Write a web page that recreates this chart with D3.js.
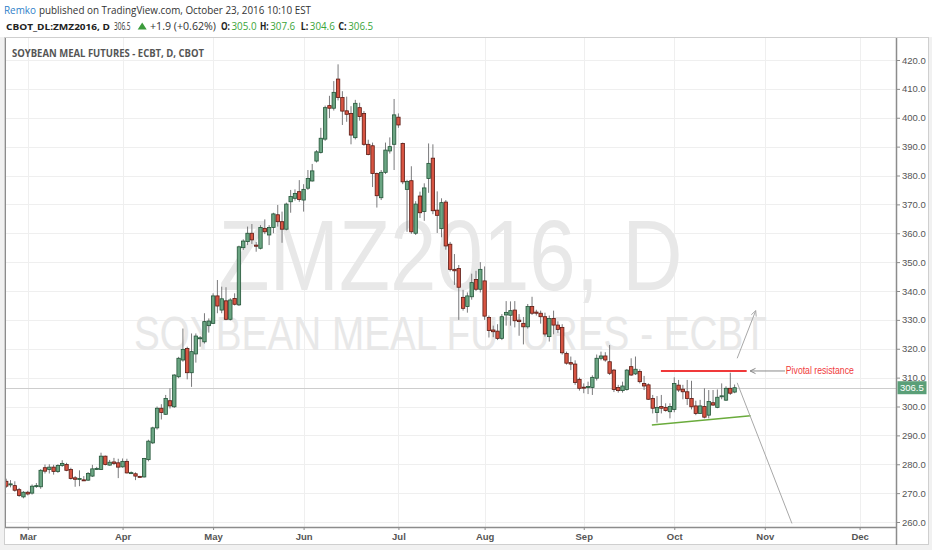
<!DOCTYPE html>
<html>
<head>
<meta charset="utf-8">
<title>ZMZ2016, D</title>
<script src="https://d3js.org/d3.v7.min.js"></script>
<style>
  body { margin: 0; background: #fff; }
  svg { display: block; font-family: "Liberation Sans", Arial, sans-serif; }
</style>
</head>
<body>
<svg id="chart" width="932" height="550"></svg>
<script>
// daily OHLC, 23 Feb 2016 .. 21 Oct 2016
const opens = [274.1,273.0,272.6,271.2,268.7,270.3,270.0,272.4,272.2,278.8,278.2,279.0,277.5,279.6,279.9,278.2,275.3,275.0,274.6,274.5,
  275.9,278.4,278.2,282.8,279.7,280.8,280.5,279.1,281.0,277.0,276.7,275.8,275.6,281.6,287.4,292.6,299.4,297.3,302.0,299.9,
  310.3,316.1,320.1,311.7,318.2,323.7,322.4,328.0,328.8,338.3,333.4,336.6,330.2,337.4,335.2,355.0,357.1,360.0,355.9,354.8,
  361.7,359.4,362.0,366.4,364.0,361.4,370.9,372.1,374.4,371.5,375.6,378.1,385.0,388.0,392.6,404.2,403.3,413.4,407.0,402.4,
  401.5,393.1,403.5,401.5,390.8,390.3,380.7,372.3,381.1,388.5,390.8,400.2,391.1,375.2,378.2,360.0,372.9,367.5,379.0,386.0,
  368.0,361.6,370.8,356.2,347.5,347.8,337.8,334.6,338.0,344.0,340.6,343.5,330.8,326.5,326.1,323.6,331.7,331.6,333.4,329.9,
  328.8,327.6,334.6,332.7,332.3,331.1,324.2,330.5,328.2,327.4,318.4,315.2,314.7,309.4,306.7,306.8,306.6,309.8,316.7,317.5,
  315.5,312.6,306.6,305.5,305.9,313.8,311.3,312.1,308.0,307.5,302.8,297.9,300.0,299.7,298.2,299.0,307.4,306.0,305.1,302.8,
  300.2,297.6,300.0,297.0,301.3,299.7,303.4,302.2,306.3,305.0];
const highs = [275.0,274.5,274.1,271.8,270.7,270.8,273.0,273.5,278.3,279.9,280.0,279.8,280.0,281.4,280.5,278.8,275.9,277.9,275.9,277.3,
  279.8,279.1,284.0,283.0,281.5,282.2,281.9,282.0,281.9,277.5,277.2,276.0,282.2,288.5,293.0,300.0,300.8,304.0,306.3,311.2,
  317.2,327.0,320.7,325.3,325.3,324.4,332.3,330.5,339.2,343.8,341.5,341.3,337.5,339.2,355.7,357.9,362.3,363.2,357.0,362.8,
  364.8,362.8,367.1,369.8,367.5,370.6,375.0,375.2,378.4,377.0,381.9,384.0,388.8,396.5,404.2,407.6,412.7,418.5,409.2,407.3,
  404.0,406.2,405.2,402.3,392.4,391.4,381.0,381.9,391.4,393.2,406.5,401.5,391.4,378.5,383.2,371.1,374.4,377.3,391.1,390.8,
  374.5,372.1,371.5,357.0,352.8,349.0,340.4,339.5,346.0,347.0,350.0,348.5,331.5,328.0,328.5,332.0,336.5,336.4,336.5,332.0,
  331.0,335.5,338.0,333.5,333.2,332.5,331.5,333.2,329.5,328.5,319.0,317.3,316.0,310.0,308.0,308.6,310.8,318.0,319.0,318.8,
  321.3,313.0,307.5,308.6,313.0,316.7,317.3,312.9,310.6,308.0,304.0,303.6,304.0,301.1,301.1,310.1,309.2,307.5,309.2,308.9,
  302.0,302.3,306.3,305.7,305.7,305.9,308.0,307.0,311.7,307.6];
const lows = [271.8,272.0,270.5,268.7,268.2,269.2,269.5,271.8,271.5,276.8,276.8,276.4,277.0,279.1,277.6,274.7,272.2,272.4,274.2,274.2,
  275.6,278.0,278.0,279.6,279.5,279.7,275.2,278.8,276.8,276.6,274.5,275.4,275.4,281.0,287.0,292.0,295.5,297.1,299.3,299.5,
  309.8,315.5,309.4,306.8,315.2,320.7,321.8,325.6,328.6,332.3,332.3,329.9,329.8,335.0,334.8,354.2,355.9,356.3,353.6,354.4,
  359.7,355.9,360.0,362.3,356.7,361.0,367.1,371.3,370.9,367.5,375.0,377.9,384.5,387.6,392.0,399.9,402.5,406.0,397.5,398.6,
  390.8,392.5,399.0,390.3,387.0,376.0,368.9,371.5,380.5,387.6,381.9,396.5,377.0,360.5,359.8,359.4,365.3,364.3,374.0,366.6,
  360.1,358.6,354.3,346.8,342.1,330.0,333.2,332.5,337.0,340.0,339.5,330.0,323.9,324.0,323.0,323.0,328.0,328.0,327.4,324.5,
  321.5,327.0,331.7,331.5,328.7,324.2,322.5,325.0,325.5,318.0,314.5,312.6,307.5,305.5,304.6,304.3,304.0,309.0,316.0,315.5,
  310.9,305.0,304.8,304.8,305.5,310.6,310.9,308.0,305.7,302.3,297.6,294.4,297.6,298.2,295.9,298.0,305.0,302.5,300.5,299.0,
  297.0,297.4,295.9,295.9,300.2,299.4,302.5,301.9,304.0,304.6];
const closes = [272.4,273.2,271.0,269.2,270.3,269.7,272.4,272.6,277.9,277.6,279.0,277.5,279.6,280.3,277.9,275.1,274.8,275.1,274.5,276.8,
  278.4,278.5,282.8,279.9,280.7,280.3,279.0,281.0,277.0,277.1,275.9,275.6,282.0,288.0,292.6,299.4,297.9,302.8,300.2,310.9,
  316.7,319.8,311.7,319.0,324.4,323.8,329.4,329.6,338.3,334.8,337.3,330.2,336.9,335.4,355.3,357.3,360.0,357.7,355.5,362.0,
  360.5,362.0,366.7,364.0,361.4,370.1,372.7,373.8,371.7,375.2,379.0,381.6,388.2,392.9,403.5,403.3,408.8,407.0,402.3,401.2,
  394.0,405.0,400.4,390.8,387.3,380.7,373.0,381.1,388.8,390.0,401.0,397.5,377.8,377.9,360.5,370.1,367.1,375.7,384.2,367.8,
  366.2,370.6,355.6,347.5,347.0,341.3,334.0,338.3,342.9,340.6,347.5,331.3,326.3,325.9,323.6,331.1,332.6,333.2,329.7,329.4,
  327.6,334.6,332.3,332.3,331.1,325.1,330.5,328.2,326.7,318.6,315.0,314.7,308.3,306.3,306.5,306.9,310.1,316.7,317.5,316.1,
  311.5,305.9,305.5,307.1,312.6,310.9,312.9,308.6,307.1,302.5,299.4,299.7,299.4,298.6,300.0,308.0,305.7,305.1,302.8,299.9,
  297.6,300.2,296.3,301.7,300.5,303.2,303.7,306.3,304.6,306.5];

const holidays = ["2016-03-25", "2016-05-30", "2016-07-04", "2016-09-05"];
const monthLabels = ["Mar", "Apr", "May", "Jun", "Jul", "Aug", "Sep", "Oct", "Nov", "Dec"];
const priceTicks = d3.range(260, 421, 10);
const lastPrice = 306.5;

// drawings, in [bar index, price]
const resistanceLine = [[151.9, 312.3], [171.8, 312.3]];
const supportLine = [[149.8, 293.6], [172.7, 296.8]];
const upArrow = [[169.6, 316.7], [173.9, 333.2]];
const downLine = [[169.6, 308.2], [182.3, 259.5]];
const noteArrow = [[180.7, 312.3], [172.6, 312.3]];
const noteText = "Pivotal resistance";

// trading days, weekends and exchange holidays skipped
const fmt = d3.timeFormat("%Y-%m-%d");
const days = d3.timeDay.range(new Date(2016, 1, 23), new Date(2016, 11, 31))
  .filter(d => d.getDay() % 6 != 0 && holidays.indexOf(fmt(d)) < 0);
const monthIdx = monthLabels.map((m, i) => days.findIndex(d => d.getMonth() == i + 2));

const plotL = 5, plotR = 896, plotT = 38, plotB = 527;
const x = d3.scaleLinear().domain([0, 198]).range([6.2, 859.6]);
const y = d3.scaleLinear().domain([260, 420]).range([522, 60]);

const svg = d3.select("#chart");

// page background + frame
svg.append("rect").attr("width", 932).attr("height", 550).attr("fill", "#f1f1f1");
svg.append("rect").attr("width", 932).attr("height", 37).attr("fill", "#fff");
svg.append("rect").attr("x", 4.5).attr("y", 37.5).attr("width", 924).attr("height", 507)
  .attr("fill", "#fff").attr("stroke", "#cfcfcf");

// header
function txt(g, xx, yy, s, size, color, weight, len) {
  const t = g.append("text").attr("x", xx).attr("y", yy).text(s)
    .attr("font-size", size).attr("fill", color).attr("font-weight", weight || "normal");
  if (len) t.attr("textLength", len).attr("lengthAdjust", "spacingAndGlyphs");
  return t;
}
const head = svg.append("g").style("font-family", "'Open Sans', sans-serif");
txt(head, 4, 13.5, "Remko", 11, "#2f80c9", "normal", 32);
txt(head, 39, 13.5, "published on TradingView.com, October 23, 2016 10:10 EST", 10.5, "#333", "normal", 272);
txt(head, 6, 30, "CBOT_DL:ZMZ2016, D", 9.5, "#222", "bold", 104);
txt(head, 114, 30, "306.5", 10.5, "#333", "normal", 16.5);
head.append("path").attr("d", "M137.7,29.5L142.2,22.5L146.7,29.5Z").attr("fill", "#3b9b3b");
txt(head, 150, 30, "+1.9 (+0.62%)", 10.5, "#333", "normal", 66);
const ohlcLabels = [["O:", 221, 9], ["H:", 260, 8.7], ["L:", 300.7, 7.6], ["C:", 338.3, 8.4]];
const ohlcVals = [opens[169], highs[169], lows[169], closes[169]];
ohlcLabels.forEach((l, i) => {
  txt(head, l[1], 30, l[0], 10.5, "#222", "bold", l[2]);
  txt(head, l[1] + l[2] + 1.5, 30, ohlcVals[i].toFixed(1), 10.5, "#3aa53a", "normal", 25);
});

// grid
const grid = svg.append("g").attr("stroke", "#efefef").attr("stroke-width", 1);
grid.selectAll(".h").data(priceTicks).enter().append("line")
  .attr("x1", plotL).attr("x2", plotR)
  .attr("y1", d => Math.round(y(d)) + 0.5).attr("y2", d => Math.round(y(d)) + 0.5);
grid.selectAll(".v").data(monthIdx).enter().append("line")
  .attr("y1", plotT).attr("y2", plotB)
  .attr("x1", d => Math.round(x(d)) + 0.5).attr("x2", d => Math.round(x(d)) + 0.5);

// watermark (condensed glyphs: smaller font stretched vertically)
function watermark(s, baseline, size, stretch, len) {
  svg.append("text")
    .attr("transform", "translate(" + ((plotL + plotR) / 2) + "," + baseline + ") scale(1," + stretch + ")")
    .attr("text-anchor", "middle").attr("font-size", size).attr("fill", "#e8e8e8")
    .attr("textLength", len).attr("lengthAdjust", "spacingAndGlyphs")
    .text(s);
}
watermark("ZMZ2016, D", 290, 84, 1.19, 464);
watermark("SOYBEAN MEAL FUTURES - ECBT", 350, 36, 1.36, 633);

// title
svg.append("text").attr("x", 12).attr("y", 57).attr("font-size", 10.5)
  .attr("font-weight", "bold").attr("fill", "#555")
  .style("font-family", "'Open Sans', sans-serif")
  .attr("textLength", 192).attr("lengthAdjust", "spacingAndGlyphs")
  .text("SOYBEAN MEAL FUTURES - ECBT, D, CBOT");

// last price line
svg.append("line").attr("x1", plotL).attr("x2", plotR)
  .attr("y1", Math.round(y(lastPrice)) + 0.5).attr("y2", Math.round(y(lastPrice)) + 0.5)
  .attr("stroke", "#cdcdcd");

// candles
svg.append("clipPath").attr("id", "plot").append("rect")
  .attr("x", plotL).attr("y", plotT).attr("width", plotR - plotL).attr("height", plotB - plotT);
const bars = svg.append("g").attr("clip-path", "url(#plot)");
const candle = bars.selectAll(".c").data(opens.map((o, i) => i)).enter().append("g");
candle.append("line")
  .attr("x1", i => x(i)).attr("x2", i => x(i))
  .attr("y1", i => y(highs[i])).attr("y2", i => y(lows[i]))
  .attr("stroke", "#7a7a7c").attr("stroke-width", 1);
candle.append("rect")
  .attr("x", i => x(i) - 1.7).attr("width", 3.4)
  .attr("y", i => y(Math.max(opens[i], closes[i])))
  .attr("height", i => Math.max(1, Math.abs(y(opens[i]) - y(closes[i]))))
  .attr("fill", i => closes[i] >= opens[i] ? "#6ba583" : "#d75442")
  .attr("stroke", i => closes[i] >= opens[i] ? "#225437" : "#5b1a13")
  .attr("stroke-width", 0.8);

// drawings
const line = d3.line().x(d => x(d[0])).y(d => y(d[1]));
const draw = svg.append("g").attr("fill", "none");
draw.append("path").attr("d", line(resistanceLine)).attr("stroke", "#f0393a").attr("stroke-width", 2);
draw.append("path").attr("d", line(supportLine)).attr("stroke", "#6aab3c").attr("stroke-width", 1.6);
draw.append("path").attr("d", line(downLine)).attr("stroke", "#a8a8a8").attr("stroke-width", 1);
function arrow(pts, color) {
  draw.append("path").attr("d", line(pts)).attr("stroke", color).attr("stroke-width", 1);
  const p0 = [x(pts[0][0]), y(pts[0][1])], p1 = [x(pts[1][0]), y(pts[1][1])];
  const a = Math.atan2(p1[1] - p0[1], p1[0] - p0[0]);
  const h = 6, w = 0.45;
  const pa = [p1[0] - h * Math.cos(a - w), p1[1] - h * Math.sin(a - w)];
  const pb = [p1[0] - h * Math.cos(a + w), p1[1] - h * Math.sin(a + w)];
  draw.append("path").attr("d", d3.line()([pa, p1, pb])).attr("stroke", color).attr("stroke-width", 1);
}
arrow(upArrow, "#a8a8a8");
arrow(noteArrow, "#8a8a8a");
svg.append("text").attr("x", x(noteArrow[0][0]) + 0.8).attr("y", y(noteArrow[0][1]) + 3.5)
  .attr("font-size", 10).attr("fill", "#f0393a")
  .attr("textLength", 68).attr("lengthAdjust", "spacingAndGlyphs")
  .text(noteText);

// axes
const yAxis = svg.append("g").attr("transform", "translate(" + plotR + ",0)")
  .call(d3.axisRight(y).tickValues(priceTicks).tickFormat(d3.format(".1f")).tickSize(4).tickSizeOuter(0));
yAxis.select(".domain").attr("d", "M0.5," + plotT + "V" + (plotB + 18)).attr("stroke", "#8c8c8c").attr("stroke-width", 1.5);
yAxis.selectAll(".tick line").attr("stroke", "#8c8c8c");
yAxis.selectAll(".tick text").attr("font-size", 9.5).attr("fill", "#555").attr("x", 6)
  .style("font-family", "'Liberation Sans', Arial, sans-serif");

const xAxis = svg.append("g").attr("transform", "translate(0," + plotB + ")")
  .call(d3.axisBottom(x).tickValues(monthIdx).tickFormat((d, i) => monthLabels[i]).tickSize(3).tickSizeOuter(0));
xAxis.select(".domain").attr("d", "M" + plotL + ",0.5H" + plotR).attr("stroke", "#8c8c8c").attr("stroke-width", 1.5);
xAxis.selectAll(".tick line").attr("stroke", "#8c8c8c");
xAxis.selectAll(".tick text").attr("font-size", 9.5).attr("font-weight", "bold").attr("fill", "#555").attr("y", 6)
  .style("font-family", "'Liberation Sans', Arial, sans-serif");

svg.append("line").attr("x1", plotL + 0.5).attr("x2", plotL + 0.5).attr("y1", plotT).attr("y2", plotB)
  .attr("stroke", "#8c8c8c").attr("stroke-width", 1);

// last price tag
svg.append("rect").attr("x", plotR + 1.5).attr("y", y(lastPrice) - 6.5).attr("width", 29).attr("height", 13)
  .attr("fill", "#5a9f78");
svg.append("text").attr("x", plotR + 4).attr("y", y(lastPrice) + 3.5).attr("font-size", 9.5)
  .attr("fill", "#fff").text(lastPrice.toFixed(1));
</script>
</body>
</html>
